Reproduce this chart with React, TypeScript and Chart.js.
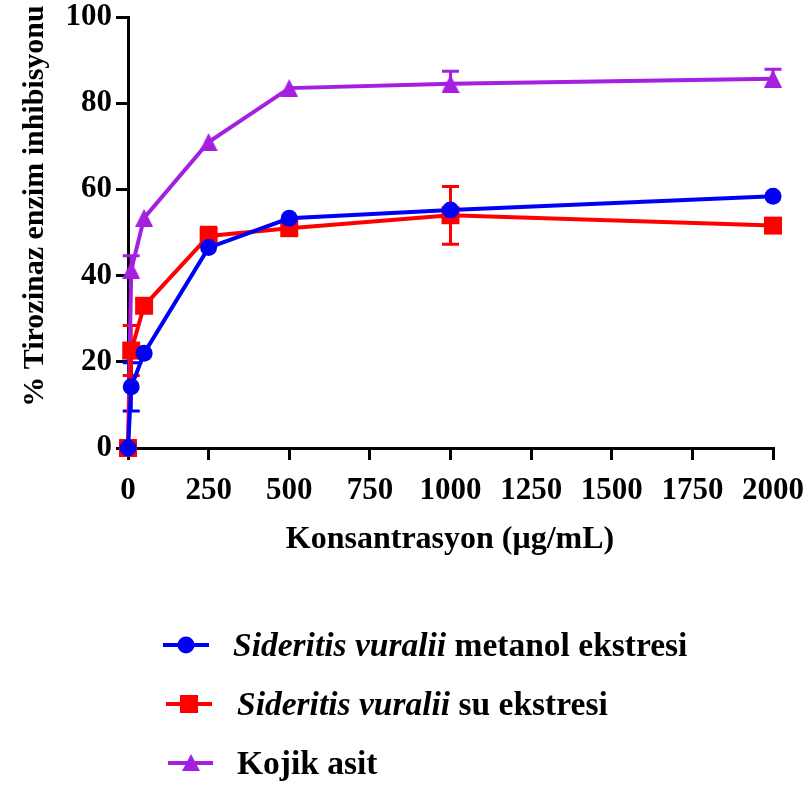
import React, { useEffect, useRef } from "react";
import { Chart, registerables } from "chart.js";

Chart.register(...registerables);

const concentrations = [0, 10, 50, 250, 500, 1000, 2000];
const methanolValues = [0, 14.2, 22.0, 46.5, 53.3, 55.2, 58.4];
const methanolErrors = [0, 5.6, 0, 0, 0, 0, 0];
const waterValues = [0, 22.6, 33.0, 49.2, 51.0, 54.0, 51.6];
const waterErrors = [0, 5.8, 1.5, 2.0, 0, 6.7, 0];
const kojicValues = [0, 41.3, 53.4, 71.0, 83.5, 84.5, 85.7];
const kojicErrors = [0, 3.3, 0, 0, 0, 2.9, 2.2];

const xTicks = [0, 250, 500, 750, 1000, 1250, 1500, 1750, 2000];
const yTicks = [0, 20, 40, 60, 80, 100];

const seriesNames = ["metanol ekstresi", "su ekstresi", "Kojik asit"];
const speciesName = "Sideritis vuralii";
const colors = ["#0000f5", "#ff0000", "#a41fe0"];
const markers = ["circle", "rect", "triangle"];
const upOnly = [false, false, true];

const FONT = '"Liberation Serif", "Times New Roman", serif';

function makeTriangle(color: string, w: number, h: number) {
  const c = document.createElement("canvas");
  c.width = w;
  c.height = h;
  const g = c.getContext("2d")!;
  g.fillStyle = color;
  g.beginPath();
  g.moveTo(w / 2, 0);
  g.lineTo(w, h);
  g.lineTo(0, h);
  g.closePath();
  g.fill();
  return c;
}

const errorBarPlugin = {
  id: "errorBars",
  beforeDatasetsDraw(chart: any) {
    const ctx = chart.ctx;
    const xs = chart.scales.x;
    const ys = chart.scales.y;
    const errs = [methanolErrors, waterErrors, kojicErrors];
    const vals = [methanolValues, waterValues, kojicValues];
    ctx.save();
    for (let d = 2; d >= 0; d--) {
      ctx.strokeStyle = colors[d];
      ctx.lineWidth = 3;
      for (let i = 0; i < concentrations.length; i++) {
        const e = errs[d][i];
        if (!e) continue;
        const px = xs.getPixelForValue(concentrations[i]);
        const py = ys.getPixelForValue(vals[d][i]);
        const top = ys.getPixelForValue(vals[d][i] + e);
        const bot = upOnly[d] ? py : ys.getPixelForValue(vals[d][i] - e);
        ctx.beginPath();
        ctx.moveTo(px, top);
        ctx.lineTo(px, bot);
        ctx.moveTo(px - 8.5, top);
        ctx.lineTo(px + 8.5, top);
        if (!upOnly[d]) {
          ctx.moveTo(px - 8.5, bot);
          ctx.lineTo(px + 8.5, bot);
        }
        ctx.stroke();
      }
    }
    ctx.restore();
  },
};

const decorPlugin = {
  id: "decor",
  afterDraw(chart: any) {
    const ctx = chart.ctx;
    ctx.save();
    ctx.fillStyle = "#000";
    ctx.font = `bold 30px ${FONT}`;
    ctx.textAlign = "center";
    ctx.textBaseline = "middle";
    ctx.translate(35, 206);
    ctx.rotate(-Math.PI / 2);
    ctx.fillText("% Tirozinaz enzim inhibisyonu", 0, 0);
    ctx.restore();

    ctx.save();
    ctx.fillStyle = "#000";
    ctx.font = `bold 32px ${FONT}`;
    ctx.textAlign = "center";
    ctx.textBaseline = "alphabetic";
    ctx.fillText("Konsantrasyon (μg/mL)", 450, 548);
    ctx.restore();

    const rows = [645, 704, 763];
    const lineX = [[163, 209], [166, 212], [168, 213]];
    const markX = [186, 189, 191];
    const textX = [233, 237, 237];
    for (let k = 0; k < 3; k++) {
      const y = rows[k];
      ctx.save();
      ctx.strokeStyle = colors[k];
      ctx.fillStyle = colors[k];
      ctx.lineWidth = 4;
      ctx.beginPath();
      ctx.moveTo(lineX[k][0], y);
      ctx.lineTo(lineX[k][1], y);
      ctx.stroke();
      const cx = markX[k];
      ctx.beginPath();
      if (markers[k] === "circle") {
        ctx.arc(cx, y, 8.5, 0, Math.PI * 2);
      } else if (markers[k] === "rect") {
        ctx.rect(cx - 9, y - 9, 18, 18);
      } else {
        ctx.moveTo(cx, y - 9);
        ctx.lineTo(cx + 9, y + 8);
        ctx.lineTo(cx - 9, y + 8);
        ctx.closePath();
      }
      ctx.fill();
      ctx.fillStyle = "#000";
      ctx.textBaseline = "alphabetic";
      ctx.textAlign = "left";
      let tx = textX[k];
      const base = y + 11;
      if (k < 2) {
        ctx.font = `italic bold 33.5px ${FONT}`;
        ctx.fillText(speciesName, tx, base);
        tx += ctx.measureText(speciesName).width;
        ctx.font = `bold 33.5px ${FONT}`;
        tx += ctx.measureText(" ").width;
      }
      ctx.font = `bold 33.5px ${FONT}`;
      ctx.fillText(seriesNames[k], tx, base);
      ctx.restore();
    }
  },
};

export default function App() {
  const ref = useRef<HTMLCanvasElement | null>(null);
  useEffect(() => {
    const canvas = ref.current;
    if (!canvas) return;
    const vals = [methanolValues, waterValues, kojicValues];
    const tri = makeTriangle(colors[2], 18, 18);
    const chart = new Chart(canvas, {
      type: "line",
      data: {
        datasets: vals.map((v, d) => ({
          label: seriesNames[d],
          data: concentrations.map((c, i) => ({ x: c, y: v[i] })),
          borderColor: colors[d],
          backgroundColor: colors[d],
          borderWidth: 4,
          pointStyle: (d === 2 ? tri : markers[d]) as any,
          pointRadius: d === 1 ? 12.7 : d === 0 ? 8.5 : 9,
          pointBorderWidth: 0,
          tension: 0,
          clip: false as any,
        })),
      },
      options: {
        animation: false,
        responsive: false,
        layout: { padding: { left: 0, top: 17, right: 36, bottom: 0 } },
        plugins: { legend: { display: false }, tooltip: { enabled: false } },
        scales: {
          x: {
            type: "linear",
            min: 0,
            max: 2000,
            afterBuildTicks: (s: any) => {
              s.ticks = xTicks.map((v) => ({ value: v }));
            },
            afterFit: (s: any) => {
              s.height = 785 - 17 - 431;
              s.paddingLeft = 0;
              s.paddingRight = 0;
            },
            border: { color: "#000", width: 3 },
            grid: { drawOnChartArea: false, drawTicks: true, tickLength: 12, color: "#000", lineWidth: 3 },
            ticks: {
              autoSkip: false,
              maxRotation: 0,
              color: "#000",
              padding: 12,
              callback: (v: any) => String(v),
              font: { family: FONT, weight: "bold", size: 31 },
            },
          },
          y: {
            type: "linear",
            min: 0,
            max: 100,
            afterBuildTicks: (s: any) => {
              s.ticks = yTicks.map((v) => ({ value: v }));
            },
            afterFit: (s: any) => {
              s.width = 128;
              s.paddingTop = 0;
              s.paddingBottom = 0;
            },
            border: { color: "#000", width: 3 },
            grid: { drawOnChartArea: false, drawTicks: true, tickLength: 12, color: "#000", lineWidth: 3 },
            ticks: {
              color: "#000",
              padding: 4,
              callback: (v: any) => String(v),
              font: { family: FONT, weight: "bold", size: 31 },
            },
          },
        },
      },
      plugins: [errorBarPlugin, decorPlugin],
    } as any);
    return () => chart.destroy();
  }, []);
  return (
    <div style={{ position: "absolute", left: 0, top: 0, width: 809, height: 785, background: "#fff" }}>
      <canvas ref={ref} width={809} height={785} style={{ width: 809, height: 785 }} />
    </div>
  );
}
